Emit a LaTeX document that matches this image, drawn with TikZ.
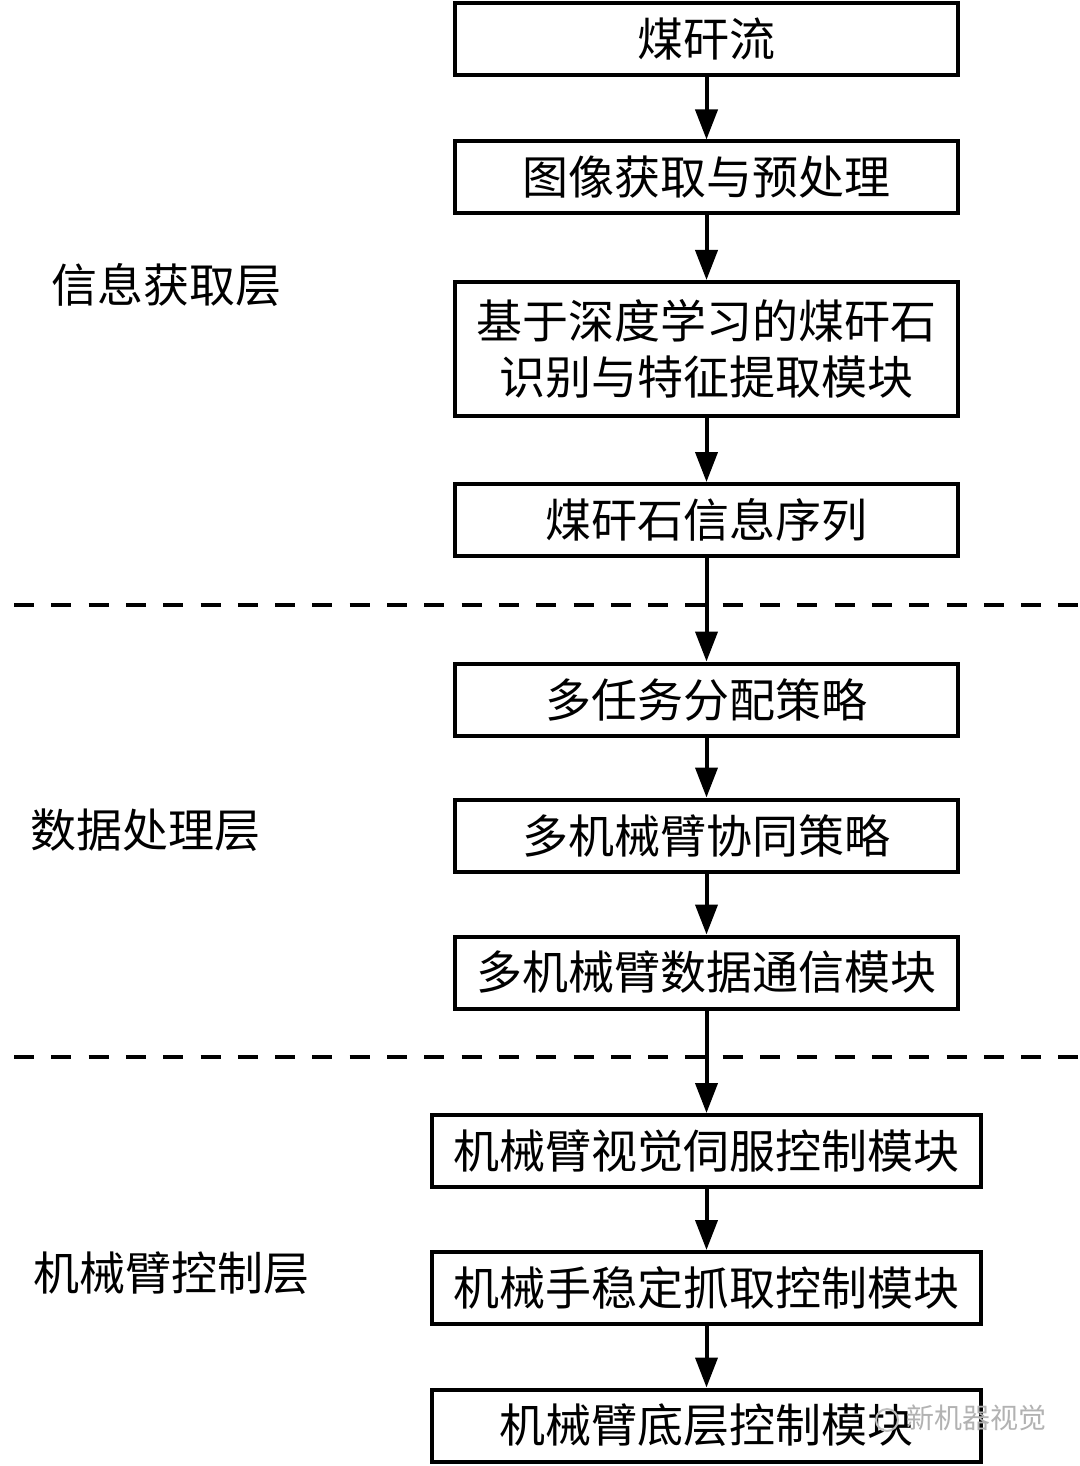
\documentclass[tikz,border=0pt]{standalone}
\usepackage{fontspec}
\newfontfamily\cjk{Noto Sans CJK SC}
\usetikzlibrary{arrows.meta}
\begin{document}
\begin{tikzpicture}[x=0.5pt,y=-0.5pt,
  box/.style={draw=black,line width=2pt,fill=white,minimum width=251.5pt,minimum height=36pt,inner sep=0pt,align=center,font=\cjk\fontsize{23}{28}\selectfont},
  wbox/.style={box,minimum width=274.5pt},
  layer/.style={font=\cjk\fontsize{23}{28}\selectfont,inner sep=0pt},
  flow/.style={line width=2pt,-{Triangle[width=11pt,length=15pt]}},
  sep/.style={line width=2pt,dash pattern=on 10pt off 8.65pt}]
\useasboundingbox (0,0) rectangle (1080,1466);
\fill[white] (0,0) rectangle (1080,1466);
\draw[sep] (14,605) -- (1080,605);
\draw[sep] (14,1057) -- (1080,1057);
\node[box] (b1) at (706.5,39.5) {煤矸流};
\node[box] (b2) at (706.5,177.5) {图像获取与预处理};
\node[box,minimum height=67pt] (b3) at (706.5,349) {基于深度学习的煤矸石\\识别与特征提取模块};
\node[box] (b4) at (706.5,520) {煤矸石信息序列};
\node[box] (b5) at (706.5,699.5) {多任务分配策略};
\node[box] (b6) at (706.5,835.5) {多机械臂协同策略};
\node[box] (b7) at (706.5,972.5) {多机械臂数据通信模块};
\node[wbox] (b8) at (706.5,1151) {机械臂视觉伺服控制模块};
\node[wbox] (b9) at (706.5,1288) {机械手稳定抓取控制模块};
\node[wbox] (b10) at (706.5,1425.5) {机械臂底层控制模块};
\foreach \a/\b in {b1/b2,b2/b3,b3/b4,b4/b5,b5/b6,b6/b7,b7/b8,b8/b9,b9/b10}
  \draw[flow] (\a) -- (\b);
\node[layer] (l1) at (166.5,285) {信息获取层};
\node[layer] (l2) at (145,830) {数据处理层};
\node[layer] (l3) at (171,1273) {机械臂控制层};
\node[font=\cjk\fontsize{14}{16}\selectfont,text=black!30,inner sep=0pt] (wm) at (976,1418) {新机器视觉};
\draw[black!25,line width=1pt] (887,1420) circle (11);
\end{tikzpicture}
\end{document}
